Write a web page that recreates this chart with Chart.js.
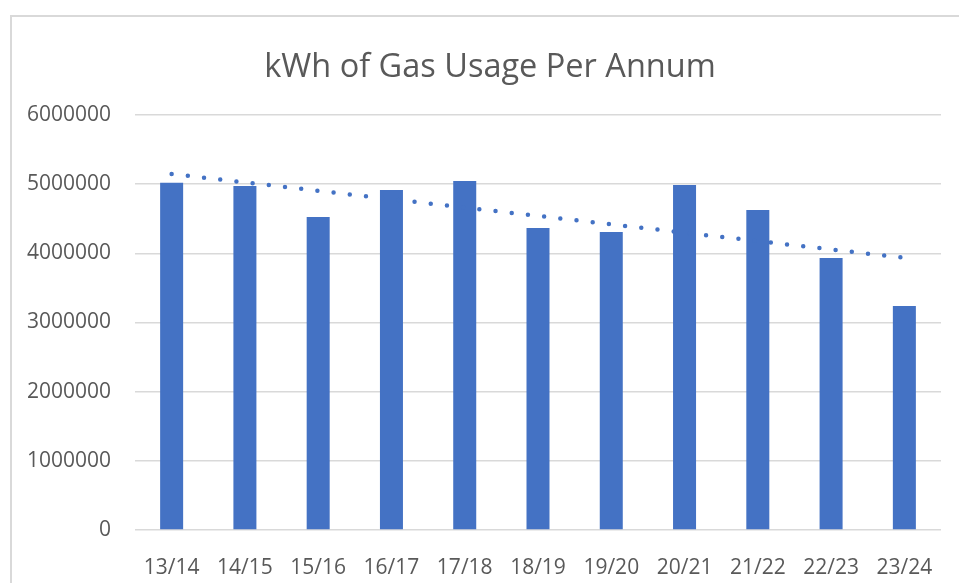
<!DOCTYPE html>
<html>
<head>
<meta charset="utf-8">
<script src="https://cdn.jsdelivr.net/npm/chart.js@4"></script>
<style>
  html, body { margin: 0; padding: 0; background: #fff; overflow: hidden; }
  #frame {
    position: absolute; left: 10px; top: 15px; width: 1000px; height: 1000px;
    border-left: 2px solid #d9d9d9; border-top: 2px solid #d9d9d9;
  }
  #wrap { position: absolute; left: 0; top: 0; width: 959px; height: 583px; }
</style>
</head>
<body>
<div id="frame"></div>
<div id="wrap"><canvas id="my-chart"></canvas></div>
<script>
const chartTitle = 'kWh of Gas Usage Per Annum';
const years = ['13/14', '14/15', '15/16', '16/17', '17/18', '18/19', '19/20', '20/21', '21/22', '22/23', '23/24'];
const gasKwh = [5020000, 4975000, 4525000, 4915000, 5046000, 4366000, 4308000, 4988000, 4626000, 3932000, 3238000];
// dotted linear trendline, ends
const trendStart = 5147000;
const trendEnd = 3935000;
const yTicks = [0, 1000000, 2000000, 3000000, 4000000, 5000000, 6000000];

const trend = years.map((y, i) => i === 0 ? trendStart : (i === years.length - 1 ? trendEnd : null));

// title centred on the whole frame, not just the canvas minus the axis
const frameTitle = {
  id: 'frameTitle',
  afterDraw(chart) {
    const c = chart.ctx;
    c.save();
    c.fillStyle = '#595959';
    c.font = '32.5px "Open Sans"';
    c.textAlign = 'center';
    c.textBaseline = 'middle';
    c.fillText(chartTitle, 490, 68);
    c.restore();
  }
};

const ctx = document.getElementById('my-chart').getContext('2d');
const chart = new Chart(ctx, {
  type: 'bar',
  data: {
    labels: years,
    datasets: [
      {
        type: 'line',
        label: 'Linear trend',
        data: trend,
        spanGaps: true,
        borderColor: '#4472C4',
        borderWidth: 4.5,
        borderDash: [0, 16.3],
        borderCapStyle: 'round',
        pointRadius: 0,
        fill: false,
        order: 0
      },
      {
        label: 'kWh',
        data: gasKwh,
        backgroundColor: '#4472C4',
        barPercentage: 0.314,
        categoryPercentage: 1,
        order: 1
      }
    ]
  },
  plugins: [frameTitle],
  options: {
    responsive: true,
    maintainAspectRatio: false,
    animation: false,
    layout: { padding: { top: 115, right: 18, bottom: 0, left: 0 } },
    plugins: {
      legend: { display: false },
      tooltip: { enabled: false },
      title: { display: false }
    },
    scales: {
      x: {
        grid: { display: false },
        border: { display: false },
        ticks: { color: '#595959', font: { family: 'Open Sans', size: 21 }, padding: 17, maxRotation: 0 },
        afterFit: s => { s.height = 53; }
      },
      y: {
        min: 0,
        max: 6000000,
        afterBuildTicks: s => { s.ticks = yTicks.map(v => ({ value: v })); },
        grid: { color: '#d9d9d9', lineWidth: 1.5, drawTicks: false },
        border: { display: false },
        ticks: { color: '#595959', font: { family: 'Open Sans', size: 21 }, padding: 24, callback: v => String(v) },
        afterFit: s => { s.width = 135; }
      }
    }
  }
});
</script>
</body>
</html>
